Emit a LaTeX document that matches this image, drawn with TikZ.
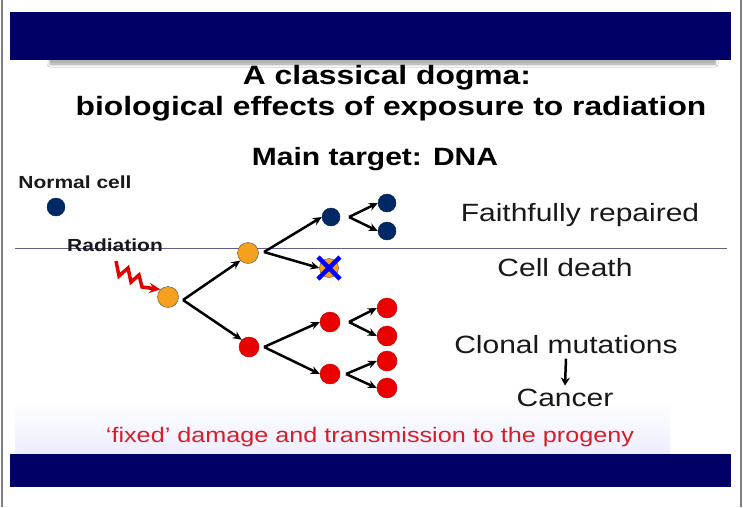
\documentclass[tikz,border=0pt]{standalone}
\usepackage{fontspec}
\setmainfont[FakeStretch=1.2]{Liberation Sans}
\usetikzlibrary{positioning}
\usetikzlibrary{arrows.meta}
\usetikzlibrary{shadows.blur}
\definecolor{navy}{RGB}{0,0,102}
\definecolor{cellblue}{RGB}{0,40,100}
\definecolor{cellorange}{RGB}{245,160,30}
\definecolor{cellred}{RGB}{235,0,0}
\definecolor{textred}{RGB}{215,30,40}
\definecolor{rule}{RGB}{95,95,140}
\tikzset{
    cellb/.style = {circle, draw=cellblue!80!black, fill=cellblue, minimum size=18pt, inner sep=0pt},
    cello/.style = {circle, draw=black!70, fill=cellorange, minimum size=21pt, inner sep=0pt},
    cellr/.style = {circle, draw=red!70!black, fill=cellred, minimum size=20pt, inner sep=0pt},
    edgen/.style = {-{Stealth[length=9pt,width=8pt]}, line width=2.5pt, black},
    lbl/.style = {font=\fontsize{25}{27}\selectfont, text=black!90},
    lblb/.style = {font=\bfseries\fontsize{17.5}{19}\selectfont, text=black!90},
    ttl/.style = {font=\bfseries\fontsize{26.5}{28}\selectfont, text=black},
    bar/.style = {fill=navy, draw=none}
}

\begin{document}
\begin{tikzpicture}[x=1pt,y=-1pt]
\useasboundingbox (0,0) rectangle (743,507);
\fill[white] (0,0) rectangle (743,507);
\draw[gray, line width=1.5pt] (2,0) -- (2,507);
\draw[gray, line width=1.5pt] (741,0) -- (741,507);
% watermark band
\shade[top color=white, bottom color=blue!7] (15,400) rectangle (670,454);
% bars
\fill[black!30, blur shadow={shadow xshift=0pt, shadow yshift=-2pt, shadow blur steps=8, shadow blur radius=3pt}] (50,56) rectangle (715,62);
\fill[bar] (10,12) rectangle (731,60);
\fill[bar] (10,454) rectangle (731,487);
% titles
\node[ttl] (t1) at (387,78) {A classical dogma:};
\node[ttl] (t2) at (391,109) {biological effects of exposure to radiation};
\node[ttl, font=\bfseries\fontsize{25}{27}\selectfont] (t3) at (375,159) {Main target: DNA};
%
\draw[rule, line width=0.8pt] (15,248) -- (727,248);
\node[lblb] (nc) at (75,182) {Normal cell};
\node[cellb] (n0) at (56,207) {};
\node[lblb] (rad) at (115,245) {Radiation};
%
\node[cello] (o1) at (168,297) {};
\node[cello] (o2) at (248,253) {};
\node[cellr] (r1) at (249,347) {};
\node[cellb] (b1) at (331,217) {};
\node[cello, minimum size=19pt] (x1) at (329,268) {};
\node[cellb] (b2) at (387,203) {};
\node[cellb] (b3) at (387,231) {};
\node[cellr] (r2) at (330,322) {};
\node[cellr] (r3) at (330,374) {};
\node[cellr] (r4) at (387,308) {};
\node[cellr] (r5) at (387,336) {};
\node[cellr] (r6) at (387,361) {};
\node[cellr] (r7) at (387,388) {};
% blue cross on the dead cell
\draw[blue, line width=4.5pt] ([shift={(-11,-11)}]x1.center) -- ([shift={(11,11)}]x1.center);
\draw[blue, line width=4.5pt] ([shift={(-11,11)}]x1.center) -- ([shift={(11,-11)}]x1.center);
% radiation bolt
\coordinate (z0) at (116,261);
\draw[red!90!black, line width=3.5pt, -{Stealth[length=11pt,width=10pt]}, line join=miter]
  (z0) -- ++(3,15) -- ++(9,-8) -- ++(3,14) -- ++(8,-7) -- ++(3,12) -- (o1.north west);
% branching arrows
\coordinate (v1) at (183,300);
\draw[edgen] (v1) -- (o2.south west);
\draw[edgen] (v1) -- (r1.north west);
\coordinate (v2) at (264,252);
\draw[edgen] (v2) -- (b1.west);
\draw[edgen] (v2) -- (x1.west);
\coordinate (v3) at (264,347);
\draw[edgen] (v3) -- (r2.west);
\draw[edgen] (v3) -- (r3.west);
\coordinate (v4) at (349,217);
\draw[edgen] (v4) -- (b2.west);
\draw[edgen] (v4) -- (b3.west);
\coordinate (v5) at (349,322);
\draw[edgen] (v5) -- (r4.west);
\draw[edgen] (v5) -- (r5.west);
\coordinate (v6) at (346,374);
\draw[edgen] (v6) -- (r6.west);
\draw[edgen] (v6) -- (r7.west);
% outcomes
\node[lbl] (fr) at (580,215) {Faithfully repaired};
\node[lbl] (cd) at (565,268) {Cell death};
\node[lbl] (cm) at (566,345) {Clonal mutations};
\node[lbl] (ca) at (565,398) {Cancer};
\draw[-{Stealth[length=8pt,width=9pt]}, line width=2.5pt] (cm.south) ++(0,1) -- (ca.north);
\node[font=\fontsize{21}{23}\selectfont, text=textred] (fx) at (370,437) {`fixed' damage and transmission to the progeny};
\end{tikzpicture}
\end{document}
